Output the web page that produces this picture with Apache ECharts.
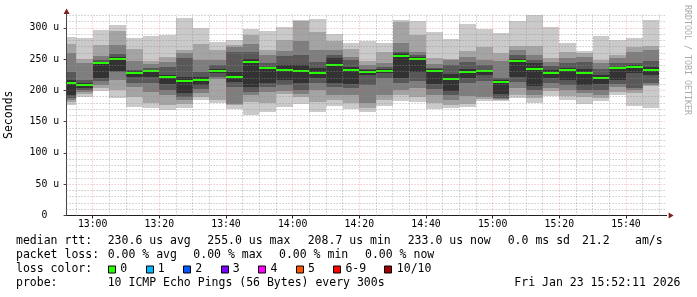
<!DOCTYPE html>
<html><head><meta charset="utf-8">
<script src="https://cdn.jsdelivr.net/npm/echarts@6/dist/echarts.min.js"></script>
<style>html,body{margin:0;padding:0;background:#fff}#c{width:697px;height:297px}</style>
</head><body><div id="c"></div>
<script>
// ---------------- data ----------------
const startTime = '12:52:11';
const endTime = '15:52:11';
const binEnds = ['12:55','13:00','13:05','13:10','13:15','13:20','13:25','13:30','13:35','13:40','13:45','13:50','13:55',
  '14:00','14:05','14:10','14:15','14:20','14:25','14:30','14:35','14:40','14:45','14:50','14:55',
  '15:00','15:05','15:10','15:15','15:20','15:25','15:30','15:35','15:40','15:45','15:50'];
// 10 sorted ping RTTs (microseconds) per 5-minute step
const pings = [
  [176,181,185,188,192,217,229,259.5,274.5,285],
  [190,194,197,200,203,212,217,243,250,284],
  [199,203,208,215,220,246,249,255,272,296.5],
  [188,200,217,229,231,253,258,272,295,304.5],
  [174,190,205,212,222,231,233,247,266,283],
  [171,180,198,212,222,233,236,242,247,287],
  [168.5,176,192,200,210,225,238,246,254,288.5],
  [171,178,184,190,195,222,252,259,265,315],
  [184.5,190,196,202,208.5,222,230,248.5,274,299.5],
  [180,184.5,218,222,227,234,240,249,265,278],
  [169.5,176,178,206,214,230,262,269,273,280.5],
  [161,181,192,198,206,250,262,274,288.5,298],
  [166,180,198,205,212,238,243,256,264,295],
  [173,194,199,209,217,240,255,263,281,300.5],
  [178,189,194,200.5,211,240,256,279,311,313],
  [166,182,200,212,220,235,246,265,294,314],
  [175,185,193,205,212,251,257,265,279,290.5],
  [170,180,192,203,210,238,248,254,266,275.5],
  [165,172,179,208,225,232,234,240,247,279.5],
  [175,185,193,220,227,234,237,243,262,276],
  [183,193,200,212,220,259,262,276,310,312.5],
  [181,189,203,215,230,253,256,262,288.5,311.5],
  [170,180,192,202,210,234,236,242,251,293.5],
  [171,177,184,193,199.5,226,240,248,250,282],
  [174,178,191,212,219,234,246,254,263,306],
  [183,186,190,215,224,233,240,248.5,270,298.5],
  [183.5,185,186,188,194.5,216,219,246.5,260,291.5],
  [188,193,203,214,222,250,256,264.5,271,311],
  [180,188,192,200,207,244,248,256,271,320.5],
  [191,199,204,211,220,233,239,245,251,300.5],
  [185,191,200,208,217,236,244,251,261.5,276],
  [178,190,195,200,208.5,234,245,253,260,263.5],
  [183,188,192,200,210,224,234,244,249,287],
  [192,198,205,210,216,238,244,251.5,257,280],
  [175,195,200,204,228,240,244,262,269,284],
  [171,207,209,212,225,238,247,264,271,312.5]
];
const medians = [211,208.7,244,250,228.5,230.5,221.5,215.5,216.5,231,221,245.5,235,233,231,228.5,240.5,232.5,229,231,
  255,250.5,231,218.5,229,230.5,213.5,246.3,234.3,228.3,232,228,220.5,235,237.5,233];
const yMax = 322;
const yLabelTicks = [0,50,100,150,200,250,300];
const yMajorGrid = [50,100,150,200,250,300];
const yMinorGrid = [10,20,30,40,60,70,80,90,110,120,130,140,160,170,180,190,210,220,230,240,260,270,280,290,310,320];
const xLabelTicks = ['13:00','13:20','13:40','14:00','14:20','14:40','15:00','15:20','15:40'];
const smokeColors = ['#cacaca','#a4a4a4','#7e7e7e','#585858','#323232'];
const lossLabels = ['0','1','2','3','4','5','6-9','10/10'];
const lossColors = ['#26ff00','#00b8ff','#0059ff','#7e00ff','#ff00ff','#ff5500','#ff0000','#a10000'];
const medianStats = ['230.6 us avg','255.0 us max','208.7 us min','233.0 us now','0.0 ms sd','21.2','am/s'];
const lossStats = ['0.00 % avg','0.00 % max','0.00 % min','0.00 % now'];
const probeText = '10 ICMP Echo Pings (56 Bytes) every 300s';
const stampText = 'Fri Jan 23 15:52:11 2026';

// ---------------- build ----------------
const toMin = s => { const p = s.split(':').map(Number); return p[0]*60 + p[1] + (p[2]||0)/60; };
const fmtTime = v => { const h = Math.floor(v/60 + 1e-6); const m = Math.round(v - h*60); return String(h).padStart(2,'0')+':'+String(m).padStart(2,'0'); };
const xMin = toMin(startTime), xMax = toMin(endTime);
const seriesData = pings.map((p,i) => [toMin(i ? binEnds[i-1] : startTime), toMin(binEnds[i]), ...p, medians[i]]);
const xMinorGrid = binEnds.filter(t => xLabelTicks.indexOf(t) < 0);

const MONO = '"DejaVu Sans Mono", monospace';
const chart = echarts.init(document.getElementById('c'), null, {renderer:'canvas'});

const option = {
  animation: false,
  backgroundColor: '#ffffff',
  grid: {left: 66.6, top: 14, width: 600, height: 201.5, containLabel: false, outerBoundsMode: 'none'},
  xAxis: {
    type: 'value', min: xMin, max: xMax,
    axisLine: {show: true, onZero: false, lineStyle: {color: '#1f1f1f', width: 1}},
    axisTick: {show: true, customValues: xLabelTicks.map(toMin), length: 3, lineStyle: {color: '#1f1f1f'}},
    axisLabel: {customValues: xLabelTicks.map(toMin), formatter: v => fmtTime(v), fontFamily: MONO, fontSize: 9.8, color: '#000', margin: 4, hideOverlap: false},
    splitLine: {show: false}
  },
  yAxis: {
    type: 'value', min: 0, max: yMax,
    name: 'Seconds', nameLocation: 'middle', nameGap: 52,
    nameTextStyle: {fontFamily: MONO, fontSize: 11.5, color: '#000'},
    axisLine: {show: true, lineStyle: {color: '#444', width: 1}},
    axisTick: {show: true, customValues: yLabelTicks, length: 3, lineStyle: {color: '#444'}},
    axisLabel: {customValues: yLabelTicks, formatter: v => v === 0 ? '0  ' : v + ' u', fontFamily: MONO, fontSize: 9.8, color: '#000', margin: 7.5},
    splitLine: {show: false}
  },
  series: [
    {
      type: 'custom', z: 2, data: seriesData,
      encode: {x: [0,1], y: [2,3,4,5,6,7,8,9,10,11,12]},
      renderItem: function (params, api) {
        const s = api.value(0), e = api.value(1);
        const children = [];
        for (let k = 0; k < 5; k++) {
          const lo = api.value(2 + k), hi = api.value(11 - k);
          const a = api.coord([s, hi]), b = api.coord([e, lo]);
          const x0 = Math.round(a[0]), x1 = Math.round(b[0]);
          const y0 = Math.round(a[1]), y1 = Math.round(b[1]);
          children.push({type: 'rect', shape: {x: x0, y: y0, width: x1 - x0, height: y1 - y0}, style: {fill: smokeColors[k]}});
        }
        const m0 = api.coord([s, api.value(12)]), m1 = api.coord([e, api.value(12)]);
        const mx0 = Math.round(m0[0]), mx1 = Math.round(m1[0]);
        children.push({type: 'rect', shape: {x: mx0, y: Math.round(m0[1]) - 1, width: mx1 - mx0, height: 2}, style: {fill: lossColors[0]}});
        return {type: 'group', children: children};
      }
    },
    {
      type: 'line', data: [], z: 5, silent: true,
      markLine: {
        silent: true, symbol: ['none','none'], label: {show: false}, animation: false,
        lineStyle: {color: 'rgba(143,143,143,0.7)', type: [1,2], width: 1},
        emphasis: {disabled: true},
        data: yMinorGrid.map(v => ({yAxis: v})).concat(xMinorGrid.map(t => ({xAxis: toMin(t)})))
      }
    },
    {
      type: 'line', data: [], z: 6, silent: true,
      markLine: {
        silent: true, symbol: ['none','none'], label: {show: false}, animation: false,
        lineStyle: {color: 'rgba(222,79,79,0.45)', type: [1,2], width: 1},
        emphasis: {disabled: true},
        data: yMajorGrid.map(v => ({yAxis: v})).concat(xLabelTicks.map(t => ({xAxis: toMin(t)})))
      }
    }
  ]
};
chart.setOption(option);

// ---------------- decorations & legend text ----------------
const LF = '11.5px ' + MONO;
const txt = (text, x, y, align, extra) => Object.assign({
  type: 'text', x: x, y: y, silent: true,
  style: {text: text, font: LF, fill: '#000', align: align || 'left', textAlign: align || 'left', verticalAlign: 'middle', textVerticalAlign: 'middle'}
}, extra || {});

const els = [];
const pxEnd = chart.convertToPixel({gridIndex: 0}, [xMax, 0]);
const pxTop = chart.convertToPixel({gridIndex: 0}, [xMin, yMax]);
const arrowCol = '#801f1f';
els.push({type: 'polygon', silent: true, shape: {points: [[pxEnd[0]+2, pxEnd[1]-3], [pxEnd[0]+7, pxEnd[1]], [pxEnd[0]+2, pxEnd[1]+3]]}, style: {fill: arrowCol}});
els.push({type: 'polygon', silent: true, shape: {points: [[pxTop[0]-3, pxTop[1]], [pxTop[0], pxTop[1]-5.5], [pxTop[0]+3, pxTop[1]]]}, style: {fill: arrowCol}});

// watermark
els.push({type: 'text', x: 687, y: 60, rotation: -Math.PI/2, silent: true,
  style: {text: 'RRDTOOL / TOBI OETIKER', font: '8.3px ' + MONO, fill: '#aaaaaa', align: 'center', textAlign: 'center', verticalAlign: 'middle', textVerticalAlign: 'middle'}});

const r1 = 241.5, r2 = 255.5, r3 = 269.5, r4 = 283.5;
els.push(txt('median rtt:', 16, r1));
const l1x = [107.7, 207.3, 307.7, 407.7, 507.7, 582, 635];
medianStats.forEach((t, i) => els.push(txt(t, l1x[i], r1)));
els.push(txt('packet loss:', 16, r2));
const l2x = [107.7, 193.3, 279, 365];
lossStats.forEach((t, i) => els.push(txt(t, l2x[i], r2)));
els.push(txt('loss color:', 16, r3));
let bx = 108;
lossLabels.forEach((lab, i) => {
  els.push({type: 'rect', silent: true, shape: {x: Math.round(bx) + 0.5, y: 266, width: 7, height: 7}, style: {fill: lossColors[i], stroke: '#000', lineWidth: 1}});
  els.push(txt(lab, bx + 12.3, r3));
  bx += 12.3 + lab.length * 6.92 + 18.3;
});
els.push(txt('probe:', 16, r4));
els.push(txt(probeText, 107.7, r4));
els.push(txt(stampText, 680.5, r4, 'right'));

chart.setOption({graphic: {elements: els}});
</script>
</body></html>
